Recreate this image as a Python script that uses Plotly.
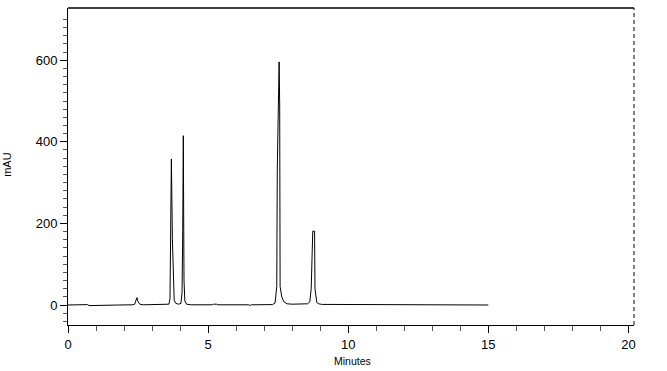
import plotly.graph_objects as go

# Chromatogram trace (minutes, mAU)
time_min = [0.00, 0.30, 0.34, 0.70, 0.75, 0.85, 0.90, 1.60, 1.65, 1.75, 1.80,
            2.30, 2.38, 2.42, 2.46, 2.50, 2.56, 2.70, 3.20, 3.30, 3.55,
            3.60, 3.64, 3.665, 3.69, 3.725, 3.79, 3.85, 3.95, 4.03, 4.07,
            4.095, 4.115, 4.14, 4.17, 4.23, 4.40, 5.15, 5.20, 5.30, 5.35,
            6.45, 6.50, 6.55, 7.30, 7.39, 7.45, 7.47, 7.535, 7.555, 7.57,
            7.63, 7.70, 7.82, 8.00, 8.55, 8.63, 8.68, 8.735, 8.80, 8.815,
            8.88, 8.95, 9.05, 10.15, 10.20, 10.70, 10.75, 12.00, 12.05, 15.00]
mau = [0.0, 0.0, 1.0, 1.0, -1.5, -1.5, 0.0, 0.0, -1.5, -1.5, 0.0,
       0.5, 2.0, 10.0, 18.0, 8.0, 2.0, 0.5, 0.5, 2.0, 2.0,
       2.0, 15.0, 250.0, 358.0, 163.0, 12.0, 4.0, 2.0, 4.0, 30.0,
       183.0, 415.0, 60.0, 10.0, 2.0, 0.5, 0.5, 2.0, 2.0, 0.5,
       0.5, -1.0, 0.5, 1.0, 5.0, 45.0, 336.0, 596.0, 490.0, 45.0,
       20.0, 8.0, 3.0, 2.0, 3.0, 8.0, 40.0, 181.0, 181.0, 40.0,
       6.0, 3.0, 1.5, 1.0, 2.0, 2.0, 1.0, 1.0, 0.0, 0.0]

x_major = [0, 5, 10, 15, 20]
x_minor = [v for v in range(0, 21) if v % 5 != 0]
y_major = [0, 200, 400, 600]
y_minor = [v for v in range(-40, 720, 20) if v % 200 != 0]

font_name = "Liberation Sans, Arial, sans-serif"

fig = go.Figure(go.Scatter(x=time_min, y=mau, mode="lines",
                           line=dict(color="black", width=1),
                           hoverinfo="skip", cliponaxis=False))

fig.update_layout(
    width=667, height=371,
    margin=dict(l=68, r=33, t=8, b=46),
    paper_bgcolor="white", plot_bgcolor="white",
    showlegend=False,
    font=dict(family=font_name, color="black"),
    xaxis=dict(range=[0, 20.2], tickvals=x_major, ticktext=[str(v) for v in x_major],
               ticks="outside", ticklen=7, tickwidth=1, tickcolor="black",
               showline=True, linecolor="black", linewidth=1, mirror=False,
               showgrid=False, zeroline=False,
               tickfont=dict(family=font_name, size=13, color="black"),
               minor=dict(tickvals=x_minor, ticks="outside", ticklen=5,
                          tickwidth=1, tickcolor="#555555", showgrid=False)),
    yaxis=dict(range=[-49, 728], tickvals=y_major, ticktext=[str(v) for v in y_major],
               ticks="outside", ticklen=7, tickwidth=1, tickcolor="black",
               showline=True, linecolor="black", linewidth=1, mirror=False,
               showgrid=False, zeroline=False,
               tickfont=dict(family=font_name, size=13, color="black"),
               minor=dict(tickvals=y_minor, ticks="outside", ticklen=4,
                          tickwidth=1, tickcolor="#555555", showgrid=False)),
    shapes=[
        dict(type="line", xref="paper", yref="paper", x0=0, x1=1, y0=1, y1=1,
             line=dict(color="black", width=1.5)),
        dict(type="line", xref="paper", yref="paper", x0=1, x1=1, y0=0, y1=1,
             line=dict(color="black", width=1, dash="4px,3px")),
    ],
    annotations=[
        dict(text="Minutes", xref="paper", yref="paper", x=0.502, y=-0.1136,
             xanchor="center", yanchor="middle", showarrow=False,
             font=dict(family=font_name, size=10.5, color="black")),
        dict(text="mAU", xref="paper", yref="paper", x=-0.108, y=0.508,
             xanchor="center", yanchor="middle", showarrow=False, textangle=-90,
             font=dict(family=font_name, size=11, color="black")),
    ],
)

fig.write_html("out.html")
